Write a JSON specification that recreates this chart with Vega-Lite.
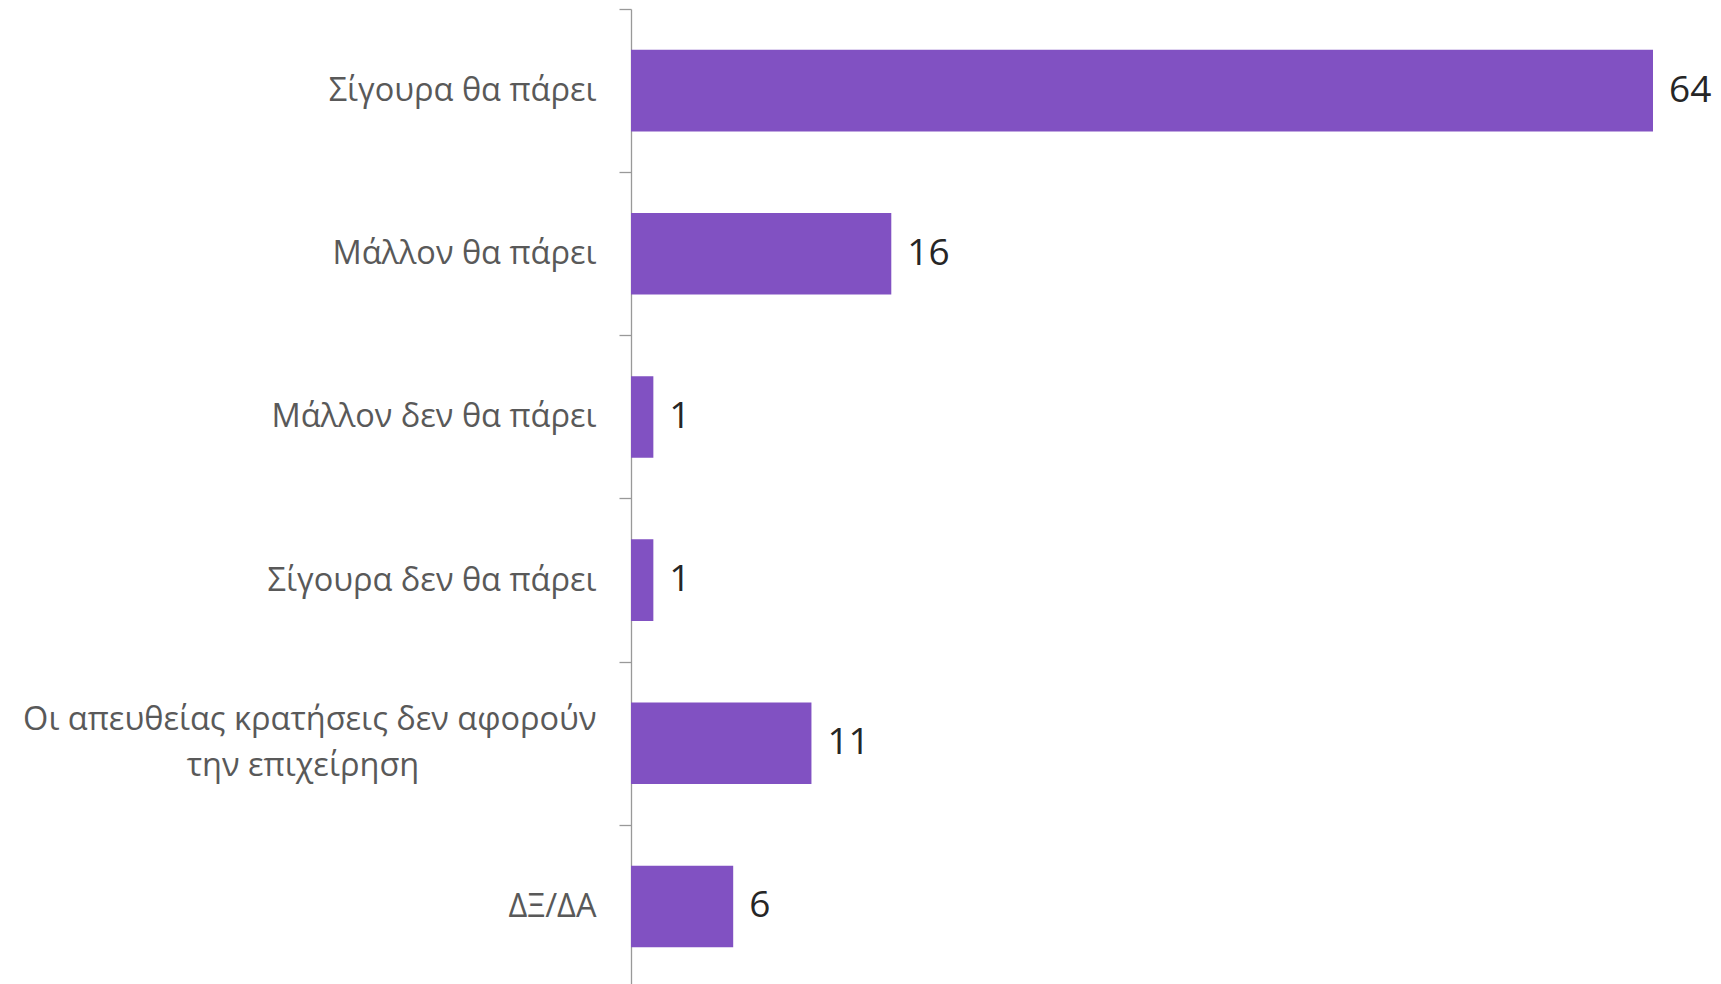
{
  "$schema": "https://vega.github.io/schema/vega-lite/v6.json",
  "autosize": "none",
  "padding": {"left": 631, "top": 9, "right": 68, "bottom": 0},
  "width": 1022,
  "height": 979,
  "background": "white",
  "config": {"view": {"stroke": null}},
  "data": {
    "values": [
      {"answer": "Σίγουρα θα πάρει", "value": 64},
      {"answer": "Μάλλον θα πάρει", "value": 16.3},
      {"answer": "Μάλλον δεν θα πάρει", "value": 1.4},
      {"answer": "Σίγουρα δεν θα πάρει", "value": 1.4},
      {"answer": "Οι απευθείας κρατήσεις δεν αφορούν|την επιχείρηση", "value": 11.3},
      {"answer": "ΔΞ/ΔΑ", "value": 6.4}
    ]
  },
  "encoding": {
    "y": {
      "field": "answer",
      "type": "nominal",
      "sort": null,
      "scale": {"paddingInner": 0.5, "paddingOuter": 0.25},
      "axis": {
        "title": null,
        "domainColor": "#999999",
        "domainWidth": 1.3,
        "tickColor": "#999999",
        "tickWidth": 1.3,
        "tickSize": 12,
        "tickOffset": -81.6,
        "labelOffset": 81.6,
        "labelFont": "Open Sans",
        "labelFontSize": 32.5,
        "labelColor": "#595959",
        "labelLimit": 0,
        "labelLineHeight": 46,
        "labelPadding": 23,
        "labelBaseline": {"condition": {"test": "indexof(datum.value, '|') >= 0", "value": "line-bottom"}, "value": "middle"},
        "labelExpr": "indexof(datum.label, '|') >= 0 ? [split(datum.label, '|')[0], split(datum.label, '|')[1] + '\u00a0\u00a0\u00a0\u00a0\u00a0\u00a0\u00a0\u00a0\u00a0\u00a0\u00a0\u00a0\u00a0\u00a0\u00a0\u00a0\u00a0\u00a0\u00a0\u00a0\u00a0\u2060'] : datum.label"
      }
    },
    "x": {
      "field": "value",
      "type": "quantitative",
      "scale": {"domain": [0, 64], "nice": false},
      "axis": null
    }
  },
  "layer": [
    {"mark": {"type": "bar", "color": "#8151c2"}},
    {
      "mark": {"type": "text", "align": "left", "baseline": "middle", "dx": 16, "font": "Open Sans", "fontSize": 37, "color": "#262626"},
      "encoding": {"text": {"field": "value", "type": "quantitative", "format": ".0f"}}
    }
  ]
}
